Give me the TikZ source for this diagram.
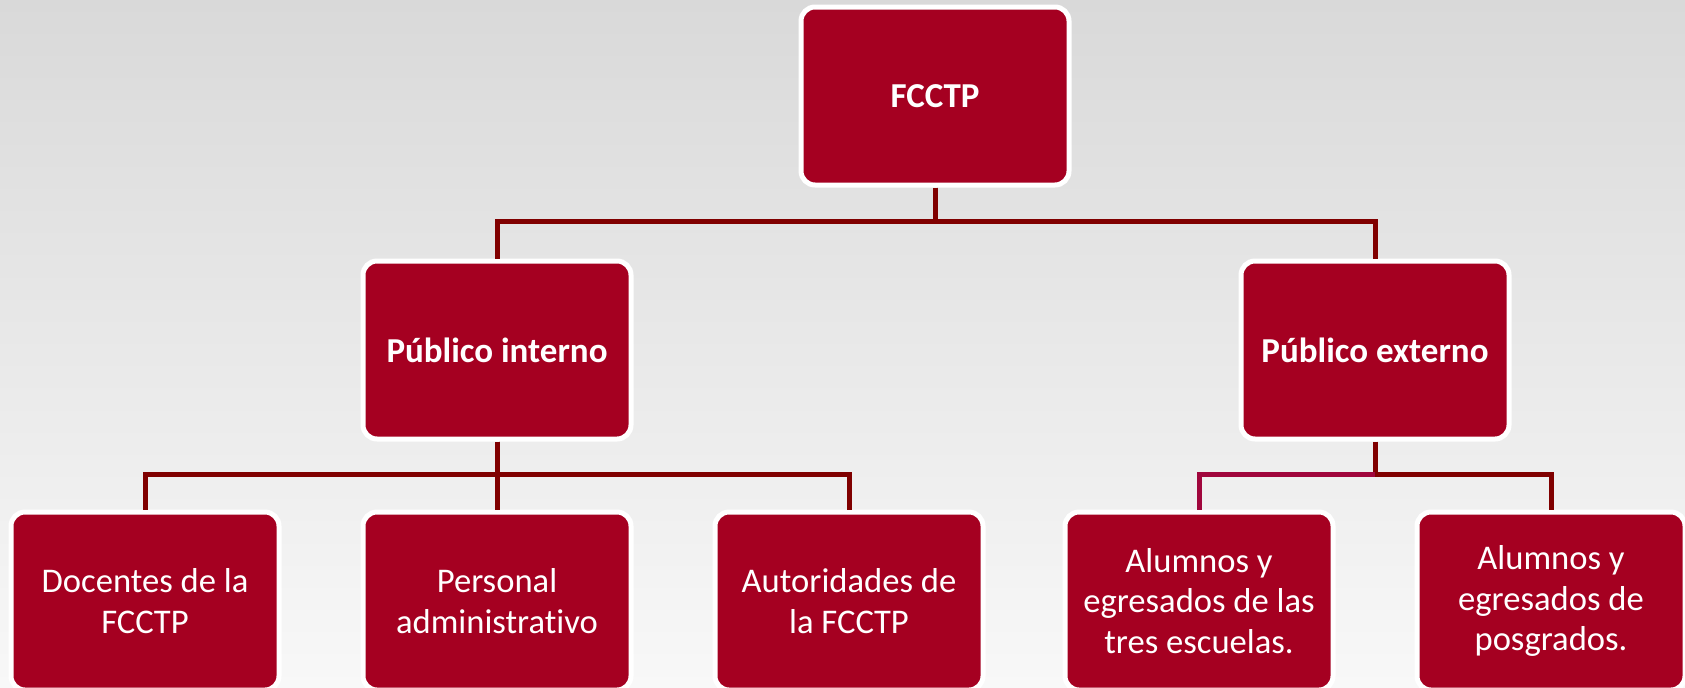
\documentclass[tikz,border=0pt]{standalone}
\usepackage{fontspec}
\setmainfont{Carlito}[Ligatures={NoCommon}]
\usetikzlibrary{positioning}

\definecolor{boxred}{HTML}{A50021}
\definecolor{linered}{HTML}{800000}
\definecolor{linepink}{HTML}{A0063C}
\definecolor{bgtop}{HTML}{D9D9D9}
\definecolor{bgbottom}{HTML}{F8F8F8}

\tikzset{
	box/.style={draw=white, line width=2.5pt, fill=boxred, rounded corners=7pt,
		minimum width=134pt, minimum height=89pt, inner sep=2pt,
		text=white, align=center, font=\fontsize{17.3}{20.4}\selectfont},
	head/.style={box, font=\fontsize{17.5}{20}\selectfont\bfseries},
	link/.style={draw=linered, line width=2.5pt},
}

\begin{document}
\begin{tikzpicture}[x=0.5pt, y=-0.5pt, node distance=39.5pt]
	\useasboundingbox (0,0) rectangle (1685,687);
	\shade[top color=bgtop, bottom color=bgbottom] (0,0) rectangle (1685,687);
	\node[head] (fcctp) at (935,96) {FCCTP};
	\node[head] (interno) at (497,350) {Público interno};
	\node[head] (externo) at (1375,350) {Público externo};
	\node[box] (personal) at (497,601) {Personal\\administrativo};
	\node[box, left= of personal] (docentes) {Docentes de la\\FCCTP};
	\node[box, right= of personal] (autoridades) {Autoridades de\\la FCCTP};
	\node[box] (escuelas) at (1199,601) {Alumnos y\\egresados de las\\tres escuelas.};
	\node[box, right= of escuelas] (posgrados) {Alumnos y\\egresados de\\posgrados.};
	\draw[link] (fcctp.south) -- ++(0,34) -| (interno.north);
	\draw[link] (fcctp.south) -- ++(0,34) -| (externo.north);
	\draw[link] (interno.south) -- ++(0,33) -| (docentes.north);
	\draw[link] (interno.south) -- ++(0,33) -| (autoridades.north);
	\draw[link] (interno.south) -- (personal.north);
	\draw[link] (externo.south) -- ++(0,33) coordinate (extjoin) -| (posgrados.north);
	\draw[link, draw=linepink] (extjoin) -| (escuelas.north);
\end{tikzpicture}
\end{document}
